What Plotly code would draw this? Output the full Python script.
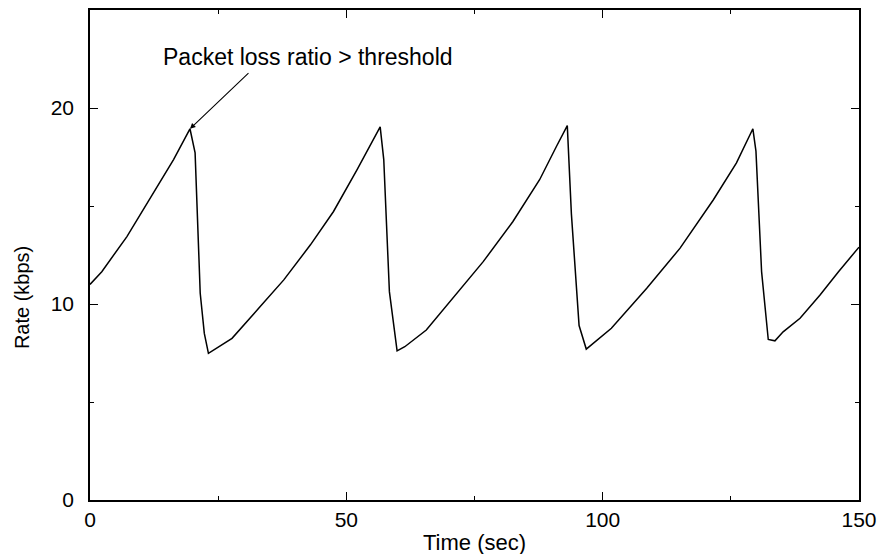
import plotly.graph_objects as go

# Data
time_sec = [0, 2.3, 7.2, 12.0, 16.3, 19.5, 20.5, 21.5, 22.3, 23.1,
            27.7, 32.9, 37.8, 43.0, 47.5, 52.1, 56.6, 57.3, 58.4, 59.9,
            61.4, 65.6, 70.8, 76.7, 82.5, 87.7, 91.0, 93.1, 93.9, 95.4, 96.8,
            101.7, 108.6, 115.1, 121.6, 126.1, 129.3, 129.9, 131.0, 132.3, 133.6,
            135.2, 138.5, 142.4, 146.0, 150.0]
rate_kbps = [11.0, 11.65, 13.44, 15.49, 17.37, 18.94, 17.71, 10.55, 8.5, 7.48,
             8.25, 9.78, 11.23, 13.02, 14.72, 16.85, 19.04, 17.37, 10.63, 7.61,
             7.82, 8.67, 10.29, 12.16, 14.21, 16.34, 18.05, 19.1, 14.6, 8.9, 7.7,
             8.76, 10.80, 12.85, 15.32, 17.2, 18.94, 17.8, 11.65, 8.19, 8.12,
             8.58, 9.27, 10.46, 11.65, 12.9]

x_major = [0, 50, 100, 150]
x_minor = [25, 75, 125]
y_major = [0, 10, 20]
y_minor = [5, 15, 25]

annot_text = "Packet loss ratio > threshold"
annot_point = (19.5, 18.94)
x_title = "Time (sec)"
y_title = "Rate (kbps)"

fig = go.Figure()
fig.add_trace(go.Scatter(x=time_sec, y=rate_kbps, mode="lines",
                         line=dict(color="black", width=1.5), showlegend=False))

axis_common = dict(showgrid=False, zeroline=False, showline=True, linecolor="black",
                   linewidth=1.5, mirror="ticks", ticks="inside", ticklen=8,
                   tickwidth=1.3, tickcolor="black", automargin=False,
                   tickfont=dict(family="Liberation Sans, Arial, sans-serif", size=21, color="black"))

fig.update_xaxes(range=[0, 150], tickvals=x_major, ticktext=[str(v) for v in x_major],
                 minor=dict(tickvals=x_minor, ticks="inside", ticklen=4, tickwidth=1.3, tickcolor="black"),
                 ticklabeloverflow="allow", **axis_common)
fig.update_yaxes(range=[0, 25], tickvals=y_major, ticktext=[str(v) for v in y_major],
                 minor=dict(tickvals=y_minor, ticks="inside", ticklen=4, tickwidth=1.3, tickcolor="black"),
                 ticklabelstandoff=10, **axis_common)

fig.add_annotation(x=annot_point[0], y=annot_point[1], ax=60, ay=-57, text="",
                   showarrow=True, arrowhead=2, arrowsize=1.0, arrowwidth=1.1, arrowcolor="black")
fig.add_annotation(x=42.6, y=22.6, text=annot_text, showarrow=False,
                   font=dict(family="Liberation Sans, Arial, sans-serif", size=23, color="black"))
fig.add_annotation(xref="paper", yref="paper", x=0.5, y=0, yshift=-42, text=x_title,
                   showarrow=False, yanchor="middle",
                   font=dict(family="Liberation Sans, Arial, sans-serif", size=22, color="black"))
fig.add_annotation(xref="paper", x=0, xshift=-68, y=10.3, text=y_title, textangle=-90,
                   showarrow=False, xanchor="center",
                   font=dict(family="Liberation Sans, Arial, sans-serif", size=20, color="black"))

fig.update_layout(width=882, height=554, margin=dict(l=90, r=23, t=10, b=54),
                  paper_bgcolor="white", plot_bgcolor="white")

fig.write_html("out.html", config={"displayModeBar": False},
               post_script="document.body.style.margin='0';")
